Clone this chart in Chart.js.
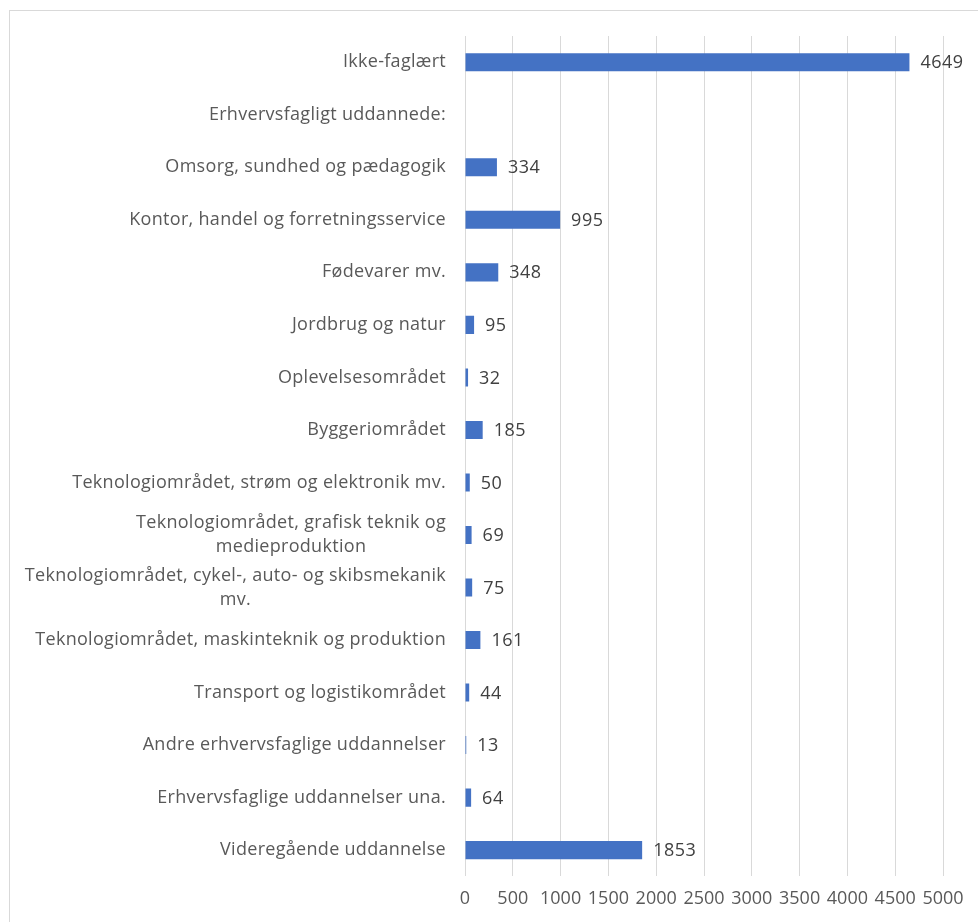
<!DOCTYPE html>
<html>
<head>
<meta charset="utf-8">
<script src="https://cdn.jsdelivr.net/npm/chart.js@4"></script>
<style>
  html, body { margin: 0; padding: 0; background: #fff; overflow: hidden; }
  #frame { position: absolute; left: 9px; top: 10px; width: 1100px; height: 1100px; border: 1px solid #d9d9d9; }
  #wrap { position: absolute; left: 0; top: 0; width: 978px; height: 922px; }
</style>
</head>
<body>
<div id="frame"></div>
<div id="wrap"><canvas id="myChart" width="978" height="922"></canvas></div>
<script>
// categories (multi-line ones are arrays of lines)
var categories = [
  "Ikke-faglært",
  "Erhvervsfagligt uddannede:",
  "Omsorg, sundhed og pædagogik",
  "Kontor, handel og forretningsservice",
  "Fødevarer mv.",
  "Jordbrug og natur",
  "Oplevelsesområdet",
  "Byggeriområdet",
  "Teknologiområdet, strøm og elektronik mv.",
  ["Teknologiområdet, grafisk teknik og", "medieproduktion"],
  ["Teknologiområdet, cykel-, auto- og skibsmekanik", "mv."],
  "Teknologiområdet, maskinteknik og produktion",
  "Transport og logistikområdet",
  "Andre erhvervsfaglige uddannelser",
  "Erhvervsfaglige uddannelser una.",
  "Videregående uddannelse"
];
var values = [4649, null, 334, 995, 348, 95, 32, 185, 50, 69, 75, 161, 44, 13, 64, 1853];
var xTicks = [0, 500, 1000, 1500, 2000, 2500, 3000, 3500, 4000, 4500, 5000];

var labelFont = "18px 'Open Sans', sans-serif";

// category labels drawn by hand so wrapped lines are centred on each other
var categoryLabels = {
  id: "categoryLabels",
  afterDraw: function (chart) {
    var ctx = chart.ctx;
    var y = chart.scales.y;
    var right = chart.chartArea.left - 19;
    ctx.save();
    ctx.font = labelFont;
    ctx.letterSpacing = "0.3px";
    ctx.fillStyle = "#595959";
    ctx.textBaseline = "middle";
    ctx.textAlign = "center";
    categories.forEach(function (cat, i) {
      var lines = Array.isArray(cat) ? cat : [cat];
      var w = 0;
      lines.forEach(function (l) { w = Math.max(w, ctx.measureText(l).width); });
      var cx = right - w / 2;
      var cy = y.getPixelForValue(i);
      var lh = 24;
      lines.forEach(function (l, j) {
        ctx.fillText(l, cx, cy + (j - (lines.length - 1) / 2) * lh);
      });
    });
    ctx.restore();
  }
};

// value labels at the end of each bar
var valueLabels = {
  id: "valueLabels",
  afterDatasetsDraw: function (chart) {
    var ctx = chart.ctx;
    var meta = chart.getDatasetMeta(0);
    ctx.save();
    ctx.font = labelFont;
    ctx.letterSpacing = "0.5px";
    ctx.fillStyle = "#404040";
    ctx.textBaseline = "middle";
    ctx.textAlign = "left";
    meta.data.forEach(function (bar, i) {
      if (values[i] == null) return;
      ctx.fillText(String(values[i]), bar.x + 11, bar.y + 1);
    });
    ctx.restore();
  }
};

var ctx = document.getElementById("myChart").getContext("2d");
var myChart = new Chart(ctx, {
  type: "bar",
  data: {
    labels: categories,
    datasets: [
      {
        data: values,
        backgroundColor: "#4472c4",
        borderWidth: 0,
        categoryPercentage: 1,
        barPercentage: 0.344
      }
    ]
  },
  plugins: [categoryLabels, valueLabels],
  options: {
    indexAxis: "y",
    responsive: false,
    animation: false,
    layout: { padding: { left: 465, right: 35, top: 36, bottom: 0 } },
    plugins: {
      legend: { display: false },
      tooltip: { enabled: false }
    },
    scales: {
      x: {
        min: 0,
        max: 5000,
        afterBuildTicks: function (scale) {
          scale.ticks = xTicks.map(function (v) { return { value: v }; });
        },
        border: { display: false },
        grid: { color: "#d9d9d9", lineWidth: 1, drawTicks: false },
        ticks: {
          color: "#595959",
          font: { family: "'Open Sans', sans-serif", size: 18 },
          padding: 12,
          maxRotation: 0,
          autoSkip: false,
          callback: function (v) { return String(v); }
        }
      },
      y: {
        display: false
      }
    }
  }
});
</script>
</body>
</html>
